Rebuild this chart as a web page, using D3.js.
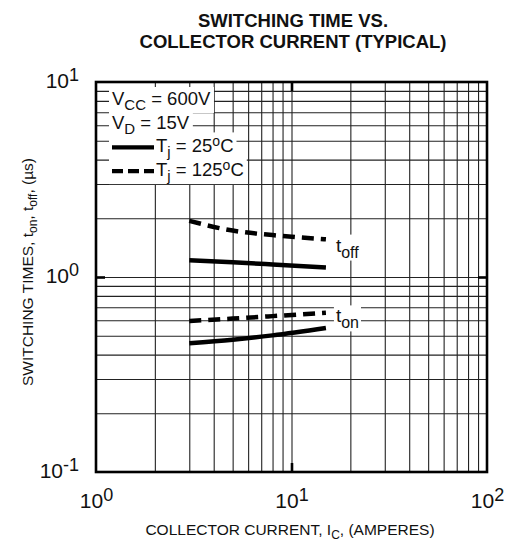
<!DOCTYPE html>
<html>
<head>
<meta charset="utf-8">
<script src="https://cdn.jsdelivr.net/npm/d3@7"></script>
<style>
  body { margin: 0; background: #fff; }
  text { font-family: "Liberation Sans", Arial, sans-serif; fill: #111; }
</style>
</head>
<body>
<svg id="chart" width="528" height="557"></svg>
<script>
// Data
const currents = [3, 5, 8, 15];
const toff125 = [1.94, 1.73, 1.64, 1.56];
const toff25 = [1.22, 1.19, 1.16, 1.12];
const ton125 = [0.595, 0.612, 0.63, 0.656];
const ton25 = [0.457, 0.477, 0.502, 0.548];

const xDecades = [1, 10, 100];
const yDecades = [0.1, 1, 10];
const xExponents = ["0", "1", "2"];
const yExponents = ["-1", "0", "1"];

const margin = { top: 82, left: 96 };
const width = 391, height = 390;

const svg = d3.select("#chart");
const g = svg.append("g").attr("transform", `translate(${margin.left},${margin.top})`);

const x = d3.scaleLog().domain([1, 100]).range([0, width]);
const y = d3.scaleLog().domain([0.1, 10]).range([height, 0]);

// minor grid values 2..9 in each decade
function gridValues(decades) {
    const vals = [];
    decades.slice(0, -1).forEach(d => {
        for (let k = 2; k <= 9; k++) vals.push(k * d);
    });
    return vals.concat(decades.slice(1, -1));
}

// grid lines
g.append("g")
    .attr("class", "grid")
    .call(d3.axisBottom(x).tickValues(gridValues(xDecades)).tickSize(height).tickFormat(""))
    .call(s => s.select(".domain").remove())
    .selectAll("line").attr("stroke", "#222").attr("stroke-width", 1.1);

g.append("g")
    .attr("class", "grid")
    .call(d3.axisRight(y).tickValues(gridValues(yDecades)).tickSize(width).tickFormat(""))
    .call(s => s.select(".domain").remove())
    .selectAll("line").attr("stroke", "#222").attr("stroke-width", 1.1);

// legend: white boxes go in their own layer under all rows
const legendBg = g.append("g");
const legend = g.append("g").attr("class", "legend");
const rows = [
    { main: "V", sub: "CC", rest: " = 600V", dash: null },
    { main: "V", sub: "D", rest: " = 15V", dash: null },
    { main: "T", sub: "j", rest: " = 25", sup: "o", end: "C", dash: "none" },
    { main: "T", sub: "j", rest: " = 125", sup: "o", end: "C", dash: "11,5" }
];
rows.forEach((r, i) => {
    const row = legend.append("g");
    const base = 23 + i * 23.7;
    const tx = r.dash === null ? 16 : 60;
    if (r.dash !== null) {
        row.append("line")
            .attr("x1", 16).attr("x2", 58)
            .attr("y1", base - 5).attr("y2", base - 5)
            .attr("stroke", "#000").attr("stroke-width", 4.2)
            .attr("stroke-dasharray", r.dash);
    }
    const t = row.append("text").attr("x", tx).attr("y", base).attr("font-size", 18.5);
    t.append("tspan").text(r.main);
    t.append("tspan").attr("dy", 5).attr("font-size", 15).text(r.sub);
    t.append("tspan").attr("dy", -5).text(r.rest);
    if (r.sup) {
        t.append("tspan").attr("dy", -6).attr("font-size", 14).text(r.sup);
        t.append("tspan").attr("dy", 6).text(r.end);
    }
    const bb = row.node().getBBox();
    legendBg.append("rect")
        .attr("x", bb.x - 3).attr("y", bb.y - 1)
        .attr("width", bb.width + 6).attr("height", bb.height + 1)
        .attr("fill", "#fff");
});

// curves
const line = d3.line()
    .x(d => x(d[0]))
    .y(d => y(d[1]))
    .curve(d3.curveMonotoneX);

const series = [
    { values: toff125, dash: "12,7" },
    { values: toff25, dash: null },
    { values: ton125, dash: "12,7" },
    { values: ton25, dash: null }
];
series.forEach(s => {
    g.append("path")
        .datum(currents.map((c, i) => [c, s.values[i]]))
        .attr("d", line)
        .attr("fill", "none")
        .attr("stroke", "#000")
        .attr("stroke-width", 4.5)
        .attr("stroke-dasharray", s.dash);
});

// curve labels
function curveLabel(xv, yv, sub) {
    const lg = g.append("g");
    const t = lg.append("text")
        .attr("x", x(xv) + 10).attr("y", y(yv))
        .attr("font-size", 19);
    t.append("tspan").text("t");
    t.append("tspan").attr("dy", 6).attr("font-size", 16).text(sub);
    const bb = lg.node().getBBox();
    lg.insert("rect", ":first-child")
        .attr("x", bb.x - 2).attr("y", bb.y)
        .attr("width", bb.width + 4).attr("height", bb.height)
        .attr("fill", "#fff");
}
curveLabel(15, 1.35, "off");
curveLabel(15, 0.585, "on");

// frame
g.append("rect")
    .attr("width", width).attr("height", height)
    .attr("fill", "none").attr("stroke", "#000").attr("stroke-width", 2.6);

// heavy decade ticks
g.append("g")
    .call(d3.axisBottom(x).tickValues([10]).tickSize(-9).tickFormat(""))
    .attr("transform", `translate(0,${height})`)
    .call(s => s.select(".domain").remove())
    .selectAll("line").attr("stroke-width", 2.6);
g.append("g")
    .call(d3.axisTop(x).tickValues([10]).tickSize(-9).tickFormat(""))
    .call(s => s.select(".domain").remove())
    .selectAll("line").attr("stroke-width", 2.6);
g.append("g")
    .call(d3.axisLeft(y).tickValues([1]).tickSize(-9).tickFormat(""))
    .call(s => s.select(".domain").remove())
    .selectAll("line").attr("stroke-width", 2.6);
g.append("g")
    .call(d3.axisRight(y).tickValues([1]).tickSize(-9).tickFormat(""))
    .attr("transform", `translate(${width},0)`)
    .call(s => s.select(".domain").remove())
    .selectAll("line").attr("stroke-width", 2.6);

// tick labels with exponents
const xLab = g.append("g")
    .attr("transform", `translate(0,${height})`)
    .call(d3.axisBottom(x).tickValues(xDecades).tickSize(0).tickPadding(0).tickFormat(""));
xLab.select(".domain").remove();
xLab.selectAll(".tick text")
    .attr("y", 36).attr("dy", null)
    .attr("font-size", 21).attr("fill", "#111")
    .each(function(d, i) {
        const t = d3.select(this);
        t.append("tspan").text("10");
        t.append("tspan").attr("dy", -7).attr("font-size", 18).text(xExponents[i]);
    });

const yLab = g.append("g")
    .call(d3.axisLeft(y).tickValues(yDecades).tickSize(0).tickPadding(17).tickFormat(""));
yLab.select(".domain").remove();
yLab.selectAll(".tick text")
    .attr("dy", 5)
    .attr("font-size", 21).attr("fill", "#111")
    .each(function(d, i) {
        const t = d3.select(this);
        t.append("tspan").text("10");
        t.append("tspan").attr("dy", -7).attr("font-size", 18).text(yExponents[i]);
    });

// title
svg.append("text")
    .attr("x", 293).attr("y", 27)
    .attr("text-anchor", "middle").attr("font-size", 18.5).attr("font-weight", "bold")
    .text("SWITCHING TIME VS.");
svg.append("text")
    .attr("x", 293).attr("y", 48)
    .attr("text-anchor", "middle").attr("font-size", 18.5).attr("font-weight", "bold")
    .text("COLLECTOR CURRENT (TYPICAL)");

// axis titles
const xt = svg.append("text")
    .attr("x", 290).attr("y", 535)
    .attr("text-anchor", "middle").attr("font-size", 15.5);
xt.append("tspan").text("COLLECTOR CURRENT, I");
xt.append("tspan").attr("dy", 4).attr("font-size", 12).text("C");
xt.append("tspan").attr("dy", -4).text(", (AMPERES)");

const yt = svg.append("text")
    .attr("transform", "translate(33,272) rotate(-90)")
    .attr("text-anchor", "middle").attr("font-size", 15.5);
yt.append("tspan").text("SWITCHING TIMES, t");
yt.append("tspan").attr("dy", 4).attr("font-size", 12).text("on");
yt.append("tspan").attr("dy", -4).text(", t");
yt.append("tspan").attr("dy", 4).attr("font-size", 12).text("off");
yt.append("tspan").attr("dy", -4).text(", (\u00b5s)");
</script>
</body>
</html>
